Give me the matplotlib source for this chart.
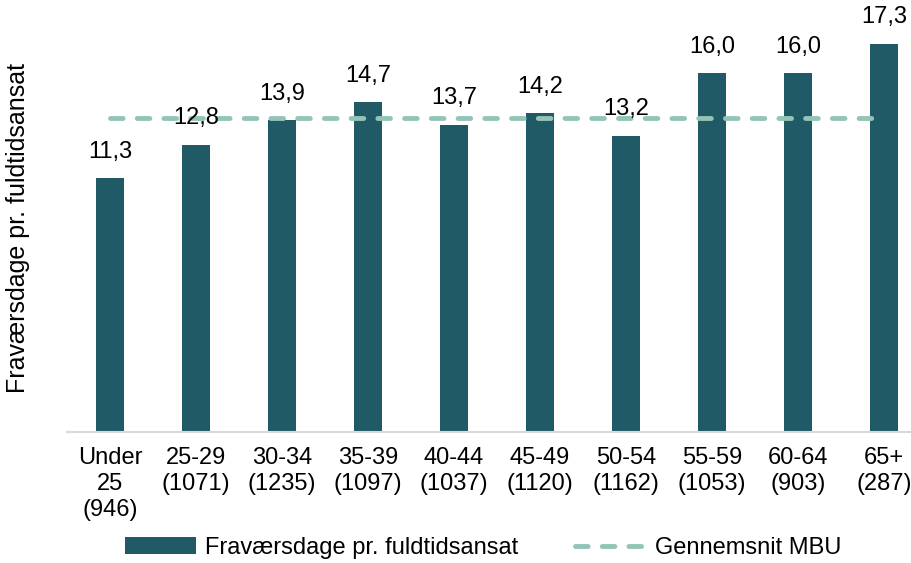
import matplotlib
matplotlib.use("Agg")
import matplotlib.pyplot as plt

# -----------------------------
# Data
# -----------------------------
categories = ["Under\n25\n(946)", "25-29\n(1071)", "30-34\n(1235)", "35-39\n(1097)",
              "40-44\n(1037)", "45-49\n(1120)", "50-54\n(1162)", "55-59\n(1053)",
              "60-64\n(903)", "65+\n(287)"]
values = [11.3, 12.8, 13.9, 14.7, 13.7, 14.2, 13.2, 16.0, 16.0, 17.3]
average_mbu = 14.0

bar_color = "#1f5a66"
line_color = "#94c4b8"

plt.rcParams["font.family"] = ["Liberation Sans", "DejaVu Sans"]

# -----------------------------
# Plot
# -----------------------------
fig = plt.figure(figsize=(9.12, 5.63), dpi=100)
ax = fig.add_axes([67 / 912, 131 / 563, 860 / 912, 432 / 563])

x = list(range(len(categories)))
bars = ax.bar(x, values, width=0.33, color=bar_color, zorder=2,
              label="Fraværsdage pr. fuldtidsansat")
line, = ax.plot(x, [average_mbu] * len(x), color=line_color, lw=3.5, zorder=3,
                linestyle=(0, (2.6, 2.9)), dash_capstyle="round",
                label="Gennemsnit MBU")

for xi, v in zip(x, values):
    ax.annotate(f"{v:.1f}".replace(".", ","), (xi, v), xytext=(0, 11),
                textcoords="offset points", ha="center", va="bottom", fontsize=17)

ax.set_xlim(-0.5, 9.5)
ax.set_ylim(0, 19.25)
ax.set_xticks(x)
ax.set_xticklabels(categories, fontsize=17, linespacing=1.22)
ax.tick_params(axis="x", length=0, pad=11)
ax.set_yticks([])
for side in ["top", "right", "left"]:
    ax.spines[side].set_visible(False)
ax.spines["bottom"].set_color("#d9d9d9")
ax.spines["bottom"].set_linewidth(1.5)

fig.text(18 / 912, 1 - 228 / 563, "Fraværsdage pr. fuldtidsansat", fontsize=18,
         rotation=90, ha="center", va="center")

fig.legend([bars, line], ["Fraværsdage pr. fuldtidsansat", "Gennemsnit MBU"],
           loc="center", bbox_to_anchor=(0.53, 0.027), ncol=2, frameon=False,
           fontsize=17, handlelength=3.0, columnspacing=2.4, handletextpad=0.4)

fig.savefig("out.png", dpi=100)
